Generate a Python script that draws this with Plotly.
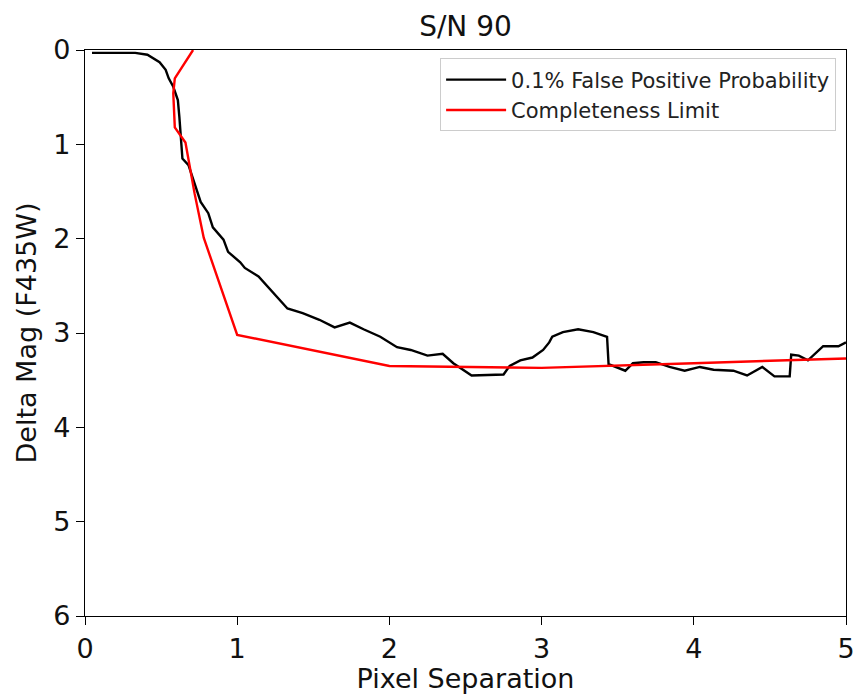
import plotly.graph_objects as go

fpp_x = [0.046, 0.33, 0.41, 0.49, 0.53, 0.55, 0.58, 0.61, 0.62, 0.64, 0.68, 0.72, 0.76, 0.81,
         0.84, 0.91, 0.94, 1.02, 1.05, 1.14, 1.25, 1.33, 1.43, 1.54, 1.64, 1.74, 1.83, 1.94,
         2.05, 2.14, 2.25, 2.35, 2.42, 2.54, 2.75, 2.79, 2.86, 2.94, 3.01, 3.05, 3.07, 3.14,
         3.24, 3.34, 3.43, 3.44, 3.55, 3.60, 3.67, 3.75, 3.84, 3.94, 4.04, 4.13, 4.26, 4.35,
         4.45, 4.53, 4.63, 4.64, 4.69, 4.75, 4.85, 4.95, 5.00]
fpp_y = [0.03, 0.03, 0.05, 0.13, 0.21, 0.30, 0.39, 0.53, 0.71, 1.15, 1.22, 1.41, 1.61, 1.73,
         1.88, 2.01, 2.14, 2.25, 2.31, 2.40, 2.60, 2.74, 2.79, 2.86, 2.94, 2.89, 2.96, 3.04,
         3.15, 3.18, 3.24, 3.22, 3.32, 3.45, 3.44, 3.35, 3.29, 3.26, 3.18, 3.10, 3.04, 2.99,
         2.96, 2.99, 3.04, 3.33, 3.40, 3.32, 3.31, 3.31, 3.36, 3.40, 3.36, 3.39, 3.40, 3.45,
         3.36, 3.46, 3.46, 3.23, 3.24, 3.29, 3.14, 3.14, 3.10]

comp_x = [0.71, 0.59, 0.58, 0.59, 0.66, 0.72, 0.78, 1.0, 2.0, 3.0, 4.0, 5.0]
comp_y = [0.00, 0.30, 0.46, 0.82, 0.98, 1.52, 1.99, 3.02, 3.35, 3.37, 3.32, 3.27]

font = "DejaVu Sans, sans-serif"
FS = 27

fig = go.Figure()
fig.add_trace(go.Scatter(x=fpp_x, y=fpp_y, mode="lines", name="0.1% False Positive Probability",
                         line=dict(color="black", width=2.4)))
fig.add_trace(go.Scatter(x=comp_x, y=comp_y, mode="lines", name="Completeness Limit",
                         line=dict(color="red", width=2.4)))

fig.update_layout(
    width=858, height=695,
    margin=dict(l=85, r=12, t=50, b=79, autoexpand=False),
    paper_bgcolor="white", plot_bgcolor="white",
    font=dict(family=font, color="black", size=FS),
    title=dict(text="S/N 90", xref="paper", x=0.5, xanchor="center", y=0.962, yanchor="middle",
               font=dict(size=28, family=font, color="#111111")),
    showlegend=True,
    legend=dict(x=0.987, xanchor="right", y=0.985, yanchor="top",
                bgcolor="rgba(255,255,255,0.8)", bordercolor="#cccccc", borderwidth=1,
                font=dict(size=21, family=font, color="#222222"),
                tracegroupgap=0, itemwidth=60),
)
fig.update_xaxes(range=[0, 5], tickvals=[0, 1, 2, 3, 4, 5], ticks="outside", ticklen=8,
                 tickwidth=1.2, tickcolor="black", showline=True, linecolor="black",
                 linewidth=1.2, mirror=True, showgrid=False, zeroline=False, automargin=False,
                 tickfont=dict(size=FS, family=font, color="#111111"),
                 title=dict(text="Pixel Separation", font=dict(size=FS, family=font, color="#111111"),
                            standoff=6))
fig.update_yaxes(range=[6, 0], tickvals=[0, 1, 2, 3, 4, 5, 6], ticks="outside", ticklen=8,
                 tickwidth=1.2, tickcolor="black", showline=True, linecolor="black",
                 linewidth=1.2, mirror=True, showgrid=False, zeroline=False, automargin=False,
                 tickfont=dict(size=FS, family=font, color="#111111"),
                 title=dict(text="Delta Mag (F435W)", font=dict(size=FS, family=font, color="#111111"),
                            standoff=8))

fig.write_html("out.html")
